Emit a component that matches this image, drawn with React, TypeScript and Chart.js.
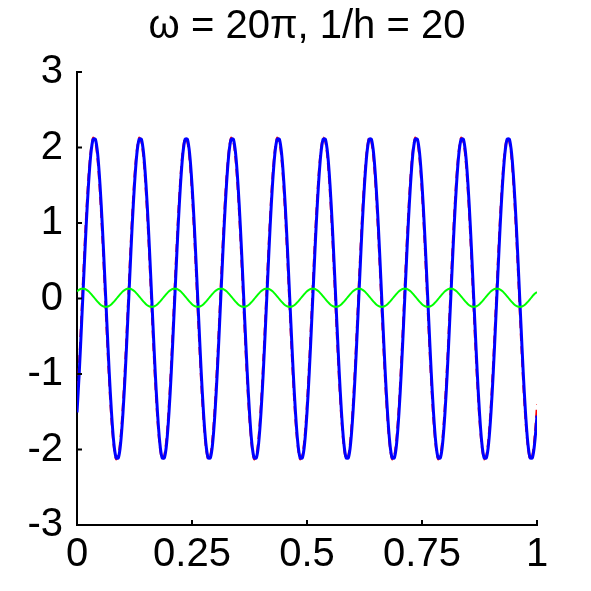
import React, { useEffect, useRef } from "react";
import { Chart, registerables } from "chart.js";

Chart.register(...registerables);

const TITLE = "ω = 20π, 1/h = 20";
const SAMPLE_STEP = 0.005; // x spacing of the read samples, from 0 to 1
const X_TICKS = [0, 0.25, 0.5, 0.75, 1];
const X_TICK_LABELS = ["0", "0.25", "0.5", "0.75", "1"];
const Y_TICKS = [-3, -2, -1, 0, 1, 2, 3];
const Y_TICK_LABELS = ["-3", "-2", "-1", "0", "1", "2", "3"];

// blue solid curve (one row per period of 0.1)
const blueValues = [
  -1.51, -0.97, -0.33, 0.33, 0.97, 1.51, 1.91, 2.11, 2.11, 1.91, 1.51, 0.97, 0.33, -0.33, -0.97, -1.51, -1.91, -2.11, -2.11, -1.91,
  -1.51, -0.97, -0.33, 0.33, 0.97, 1.51, 1.91, 2.11, 2.11, 1.91, 1.51, 0.97, 0.33, -0.33, -0.97, -1.51, -1.91, -2.11, -2.11, -1.91,
  -1.51, -0.97, -0.33, 0.33, 0.97, 1.51, 1.91, 2.11, 2.11, 1.91, 1.51, 0.97, 0.33, -0.33, -0.97, -1.51, -1.91, -2.11, -2.11, -1.91,
  -1.51, -0.97, -0.33, 0.33, 0.97, 1.51, 1.91, 2.11, 2.11, 1.91, 1.51, 0.97, 0.33, -0.33, -0.97, -1.51, -1.91, -2.11, -2.11, -1.91,
  -1.51, -0.97, -0.33, 0.33, 0.97, 1.51, 1.91, 2.11, 2.11, 1.91, 1.51, 0.97, 0.33, -0.33, -0.97, -1.51, -1.91, -2.11, -2.11, -1.91,
  -1.51, -0.97, -0.33, 0.33, 0.97, 1.51, 1.91, 2.11, 2.11, 1.91, 1.51, 0.97, 0.33, -0.33, -0.97, -1.51, -1.91, -2.11, -2.11, -1.91,
  -1.51, -0.97, -0.33, 0.33, 0.97, 1.51, 1.91, 2.11, 2.11, 1.91, 1.51, 0.97, 0.33, -0.33, -0.97, -1.51, -1.91, -2.11, -2.11, -1.91,
  -1.51, -0.97, -0.33, 0.33, 0.97, 1.51, 1.91, 2.11, 2.11, 1.91, 1.51, 0.97, 0.33, -0.33, -0.97, -1.51, -1.91, -2.11, -2.11, -1.91,
  -1.51, -0.97, -0.33, 0.33, 0.97, 1.51, 1.91, 2.11, 2.11, 1.91, 1.51, 0.97, 0.33, -0.33, -0.97, -1.51, -1.91, -2.11, -2.11, -1.91,
  -1.51, -0.97, -0.33, 0.33, 0.97, 1.51, 1.91, 2.11, 2.11, 1.91, 1.51, 0.97, 0.33, -0.33, -0.97, -1.51, -1.91, -2.11, -2.11, -1.91,
  -1.55,
];

// red dashed curve (slightly ahead of the blue one)
const redValues = [
  -1.37, -0.8, -0.15, 0.52, 1.13, 1.63, 1.97, 2.13, 2.07, 1.81, 1.37, 0.8, 0.15, -0.52, -1.13, -1.63, -1.97, -2.13, -2.07, -1.81,
  -1.37, -0.8, -0.15, 0.52, 1.13, 1.63, 1.97, 2.13, 2.07, 1.81, 1.37, 0.8, 0.15, -0.52, -1.13, -1.63, -1.97, -2.13, -2.07, -1.81,
  -1.37, -0.8, -0.15, 0.52, 1.13, 1.63, 1.97, 2.13, 2.07, 1.81, 1.37, 0.8, 0.15, -0.52, -1.13, -1.63, -1.97, -2.13, -2.07, -1.81,
  -1.37, -0.8, -0.15, 0.52, 1.13, 1.63, 1.97, 2.13, 2.07, 1.81, 1.37, 0.8, 0.15, -0.52, -1.13, -1.63, -1.97, -2.13, -2.07, -1.81,
  -1.37, -0.8, -0.15, 0.52, 1.13, 1.63, 1.97, 2.13, 2.07, 1.81, 1.37, 0.8, 0.15, -0.52, -1.13, -1.63, -1.97, -2.13, -2.07, -1.81,
  -1.37, -0.8, -0.15, 0.52, 1.13, 1.63, 1.97, 2.13, 2.07, 1.81, 1.37, 0.8, 0.15, -0.52, -1.13, -1.63, -1.97, -2.13, -2.07, -1.81,
  -1.37, -0.8, -0.15, 0.52, 1.13, 1.63, 1.97, 2.13, 2.07, 1.81, 1.37, 0.8, 0.15, -0.52, -1.13, -1.63, -1.97, -2.13, -2.07, -1.81,
  -1.37, -0.8, -0.15, 0.52, 1.13, 1.63, 1.97, 2.13, 2.07, 1.81, 1.37, 0.8, 0.15, -0.52, -1.13, -1.63, -1.97, -2.13, -2.07, -1.81,
  -1.37, -0.8, -0.15, 0.52, 1.13, 1.63, 1.97, 2.13, 2.07, 1.81, 1.37, 0.8, 0.15, -0.52, -1.13, -1.63, -1.97, -2.13, -2.07, -1.81,
  -1.37, -0.8, -0.15, 0.52, 1.13, 1.63, 1.97, 2.13, 2.07, 1.81, 1.37, 0.8, 0.15, -0.52, -1.13, -1.63, -1.97, -2.13, -2.07, -1.81,
  -1.4,
];

// green small oscillation
const greenValues = [
  0.095, 0.117, 0.129, 0.129, 0.117, 0.095, 0.064, 0.029, -0.009, -0.044, -0.075, -0.097, -0.109, -0.109, -0.097, -0.075, -0.044, -0.009, 0.029, 0.064,
  0.095, 0.117, 0.129, 0.129, 0.117, 0.095, 0.064, 0.029, -0.009, -0.044, -0.075, -0.097, -0.109, -0.109, -0.097, -0.075, -0.044, -0.009, 0.029, 0.064,
  0.095, 0.117, 0.129, 0.129, 0.117, 0.095, 0.064, 0.029, -0.009, -0.044, -0.075, -0.097, -0.109, -0.109, -0.097, -0.075, -0.044, -0.009, 0.029, 0.064,
  0.095, 0.117, 0.129, 0.129, 0.117, 0.095, 0.064, 0.029, -0.009, -0.044, -0.075, -0.097, -0.109, -0.109, -0.097, -0.075, -0.044, -0.009, 0.029, 0.064,
  0.095, 0.117, 0.129, 0.129, 0.117, 0.095, 0.064, 0.029, -0.009, -0.044, -0.075, -0.097, -0.109, -0.109, -0.097, -0.075, -0.044, -0.009, 0.029, 0.064,
  0.095, 0.117, 0.129, 0.129, 0.117, 0.095, 0.064, 0.029, -0.009, -0.044, -0.075, -0.097, -0.109, -0.109, -0.097, -0.075, -0.044, -0.009, 0.029, 0.064,
  0.095, 0.117, 0.129, 0.129, 0.117, 0.095, 0.064, 0.029, -0.009, -0.044, -0.075, -0.097, -0.109, -0.109, -0.097, -0.075, -0.044, -0.009, 0.029, 0.064,
  0.095, 0.117, 0.129, 0.129, 0.117, 0.095, 0.064, 0.029, -0.009, -0.044, -0.075, -0.097, -0.109, -0.109, -0.097, -0.075, -0.044, -0.009, 0.029, 0.064,
  0.095, 0.117, 0.129, 0.129, 0.117, 0.095, 0.064, 0.029, -0.009, -0.044, -0.075, -0.097, -0.109, -0.109, -0.097, -0.075, -0.044, -0.009, 0.029, 0.064,
  0.095, 0.117, 0.129, 0.129, 0.117, 0.095, 0.064, 0.029, -0.009, -0.044, -0.075, -0.097, -0.109, -0.109, -0.097, -0.075, -0.044, -0.009, 0.029, 0.064,
  0.085,
];

const FONT = "'Liberation Sans', Arial, Helvetica, sans-serif";

const toPoints = (vals: number[]) =>
  vals.map((v, i) => ({ x: +(i * SAMPLE_STEP).toFixed(4), y: v }));

const innerTicks = {
  id: "innerTicks",
  afterDraw(chart: any) {
    const { ctx, scales } = chart;
    const xs = scales.x;
    const ys = scales.y;
    const len = 5;
    ctx.save();
    ctx.strokeStyle = "#000";
    ctx.lineWidth = 2;
    ctx.beginPath();
    xs.ticks.forEach((t: any) => {
      const px = xs.getPixelForValue(t.value);
      ctx.moveTo(px, ys.bottom);
      ctx.lineTo(px, ys.bottom - len);
    });
    ys.ticks.forEach((t: any) => {
      const py = ys.getPixelForValue(t.value);
      ctx.moveTo(xs.left, py);
      ctx.lineTo(xs.left + len, py);
    });
    ctx.stroke();
    ctx.restore();
  },
};

export default function App() {
  const ref = useRef<HTMLCanvasElement | null>(null);
  useEffect(() => {
    document.body.style.margin = "0";
    const canvas = ref.current;
    if (!canvas) return;
    const chart = new Chart(canvas, {
      type: "line",
      data: {
        datasets: [
          {
            label: "green",
            data: toPoints(greenValues),
            borderColor: "#00ff00",
            borderWidth: 2,
            pointRadius: 0,
            tension: 0.3,
          },
          {
            label: "blue",
            data: toPoints(blueValues),
            borderColor: "#0000ff",
            borderWidth: 3,
            pointRadius: 0,
            tension: 0.3,
          },
          {
            label: "red",
            data: toPoints(redValues),
            borderColor: "#ff0000",
            borderWidth: 2,
            borderDash: [8, 5],
            pointRadius: 0,
            tension: 0.3,
          },
        ],
      },
      options: {
        animation: false,
        responsive: false,
        devicePixelRatio: 1,
        layout: { padding: { left: 0, right: 54, top: 0, bottom: 0 } },
        plugins: {
          legend: { display: false },
          tooltip: { enabled: false },
          title: {
            display: true,
            text: TITLE,
            fullSize: false,
            color: "#000",
            font: { family: FONT, size: 40, weight: "normal" },
            padding: { top: 3, bottom: 21 },
          },
        },
        scales: {
          x: {
            type: "linear",
            min: 0,
            max: 1,
            z: 1,
            afterBuildTicks: (s: any) => {
              s.ticks = X_TICKS.map((v) => ({ value: v }));
            },
            afterFit: (s: any) => {
              s.height = 66;
            },
            grid: { display: false, drawTicks: false },
            border: { display: true, color: "#000", width: 2 },
            ticks: {
              color: "#000",
              padding: 6,
              maxRotation: 0,
              autoSkip: false,
              font: { family: FONT, size: 40 },
              callback: (v: any) => {
                const i = X_TICKS.indexOf(Number(v));
                return i >= 0 ? X_TICK_LABELS[i] : "";
              },
            },
          },
          y: {
            type: "linear",
            min: -3,
            max: 3,
            z: 1,
            afterBuildTicks: (s: any) => {
              s.ticks = Y_TICKS.map((v) => ({ value: v }));
            },
            afterFit: (s: any) => {
              s.width = 77;
            },
            grid: { display: false, drawTicks: false },
            border: { display: true, color: "#000", width: 2 },
            ticks: {
              color: "#000",
              padding: 14,
              autoSkip: false,
              font: { family: FONT, size: 40 },
              callback: (v: any) => {
                const i = Y_TICKS.indexOf(Number(v));
                return i >= 0 ? Y_TICK_LABELS[i] : "";
              },
            },
          },
        },
      },
      plugins: [innerTicks],
    });
    return () => chart.destroy();
  }, []);
  return (
    <div style={{ width: 591, height: 591, background: "#fff" }}>
      <canvas ref={ref} width={591} height={591} />
    </div>
  );
}
